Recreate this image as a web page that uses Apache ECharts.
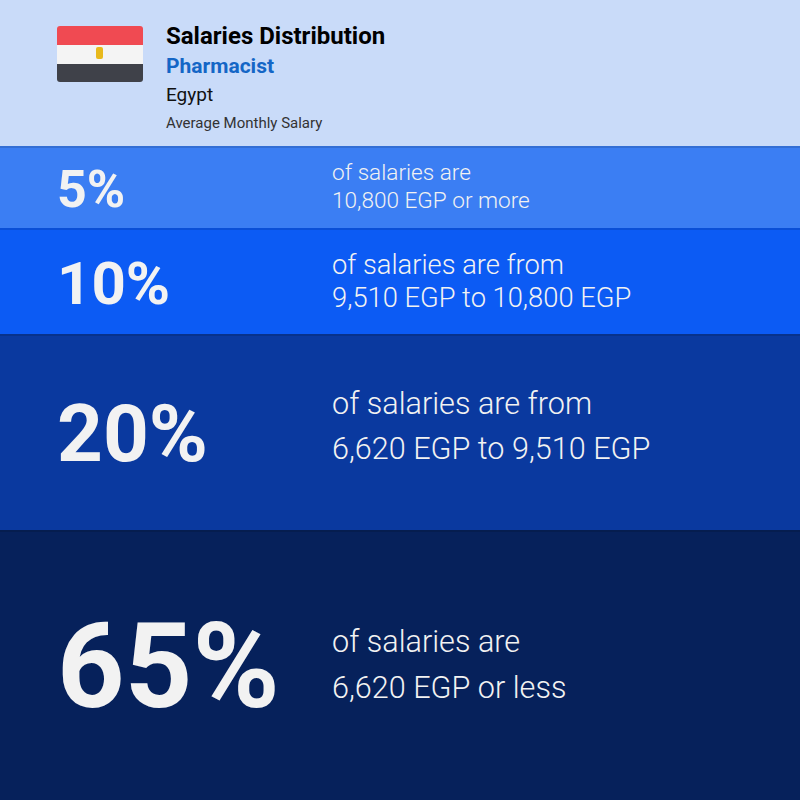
<!DOCTYPE html>
<html><head><meta charset="utf-8">
<script src="https://cdn.jsdelivr.net/npm/echarts@6/dist/echarts.min.js"></script>
<style>html,body{margin:0;padding:0;background:#c9dbf9}#c{width:800px;height:800px}</style>
</head><body><div id="c"></div>
<script>
var percents = ['5%', '10%', '20%', '65%'];
var lines1 = ['of salaries are', 'of salaries are from', 'of salaries are from', 'of salaries are'];
var lines2 = ['10,800 EGP or more', '9,510 EGP to 10,800 EGP', '6,620 EGP to 9,510 EGP', '6,620 EGP or less'];
var bandStart = [146, 228, 334, 530];
var bandEnd = [228, 334, 530, 800];
var colors = ['#3b7ef3', '#0c5bf4', '#0a399f', '#06215b'];
var pctSize = [52, 60, 80, 118];
var descSize = [22.6, 27.3, 30.6, 30.6];
var lineGap = [28, 33, 45, 46];
var descShift = [-1, 0, -6, -1];

var chart = echarts.init(document.getElementById('c'), null, { renderer: 'svg' });
chart.setOption({
  animation: false,
  backgroundColor: '#c9dbf9',
  grid: { left: 0, right: 0, top: 0, bottom: 0 },
  xAxis: { type: 'value', min: 0, max: 800, show: false },
  yAxis: { type: 'value', min: 0, max: 800, inverse: true, show: false },
  graphic: [
    { type: 'rect', shape: { x: 57, y: 26, width: 86, height: 19, r: [3, 3, 0, 0] }, style: { fill: '#f04a52' } },
    { type: 'rect', shape: { x: 57, y: 45, width: 86, height: 19 }, style: { fill: '#f4f4f4' } },
    { type: 'rect', shape: { x: 57, y: 64, width: 86, height: 18, r: [0, 0, 3, 3] }, style: { fill: '#3f4149' } },
    { type: 'rect', shape: { x: 96, y: 47, width: 7, height: 12, r: 2 }, style: { fill: '#e8b91c' } },
    { type: 'text', left: 166, top: 24, style: { text: 'Salaries Distribution', font: 'bold 24px Roboto', fill: '#000' } },
    { type: 'text', left: 166, top: 55, style: { text: 'Pharmacist', font: 'bold 21px Roboto', fill: '#1466c6' } },
    { type: 'text', left: 166, top: 85, style: { text: 'Egypt', font: '19px Roboto', fill: '#111' } },
    { type: 'text', left: 166, top: 115, style: { text: 'Average Monthly Salary', font: '15px Roboto', fill: '#333' } }
  ],
  series: [{
    type: 'custom',
    data: percents.map(function (p, i) { return [bandStart[i], bandEnd[i], i]; }),
    renderItem: function (params, api) {
      var i = api.value(2);
      var a = api.coord([0, api.value(0)]);
      var b = api.coord([800, api.value(1)]);
      var mid = (a[1] + b[1]) / 2;
      var dm = mid + descShift[i];
      return {
        type: 'group',
        children: [
          { type: 'rect', shape: { x: a[0], y: a[1], width: b[0] - a[0], height: b[1] - a[1] }, style: { fill: colors[i] } },
          { type: 'rect', shape: { x: a[0], y: a[1], width: b[0] - a[0], height: 2 }, style: { fill: 'rgba(0,0,0,0.12)' } },
          { type: 'text', style: { x: 57, y: mid + 2, text: percents[i], font: 'bold ' + pctSize[i] + 'px Roboto', fill: '#f2f2f2', verticalAlign: 'middle' } },
          { type: 'text', style: { x: 332, y: dm - lineGap[i] / 2, text: lines1[i], font: '300 ' + descSize[i] + 'px Roboto', fill: '#f2f2f2', verticalAlign: 'middle' } },
          { type: 'text', style: { x: 332, y: dm + lineGap[i] / 2, text: lines2[i], font: '300 ' + descSize[i] + 'px Roboto', fill: '#f2f2f2', verticalAlign: 'middle' } }
        ]
      };
    }
  }]
});
</script></body></html>
